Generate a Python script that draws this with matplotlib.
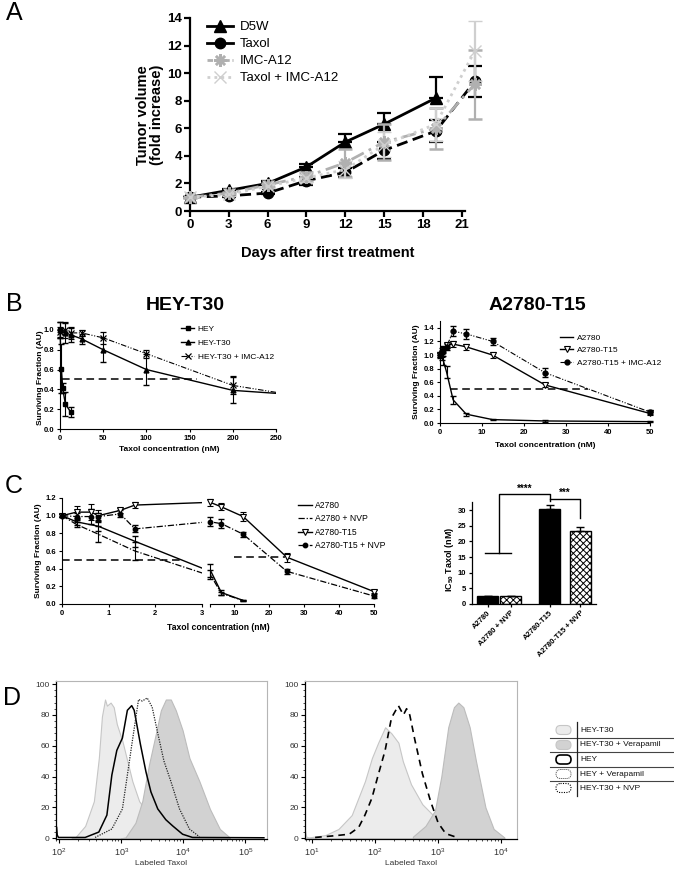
import matplotlib
matplotlib.use('Agg')
import matplotlib.pyplot as plt
from matplotlib.patches import FancyBboxPatch
from matplotlib.lines import Line2D
from matplotlib.ticker import FormatStrFormatter, MultipleLocator
import numpy as np

plt.rcParams['font.family'] = ['Liberation Sans', 'DejaVu Sans']
plt.rcParams['mathtext.fontset'] = 'custom'
plt.rcParams['mathtext.rm'] = 'Liberation Sans'
plt.rcParams['mathtext.bf'] = 'Liberation Sans:bold'
plt.rcParams['hatch.linewidth'] = 0.7

# ---------------- data ----------------
# A: tumour growth
days = [0, 3, 6, 9, 12, 15, 19, 22]
d5w = [1.0, 1.5, 2.0, 3.2, 5.0, 6.3, 8.2]
d5w_err = [0.05, 0.1, 0.15, 0.2, 0.6, 0.8, 1.5]
taxol = [1.0, 1.1, 1.3, 2.2, 2.8, 4.4, 5.8, 9.4]
taxol_err = [0.05, 0.1, 0.1, 0.3, 0.3, 0.6, 0.8, 1.1]
imc = [1.0, 1.3, 1.9, 2.5, 3.5, 5.0, 6.0, 9.2]
imc_err = [0.05, 0.1, 0.15, 0.3, 1.0, 1.3, 1.5, 2.5]
combo = [1.0, 1.2, 1.8, 2.4, 3.0, 4.8, 6.3, 11.6]
combo_err = [0.05, 0.1, 0.15, 0.3, 0.6, 0.9, 1.2, 2.2]

# B left: HEY / HEY-T30
hey_x = [0, 1.56, 3.125, 6.25, 12.5]
hey_y = [1.0, 0.61, 0.41, 0.25, 0.17]
hey_err = [0.08, 0.25, 0.05, 0.12, 0.05]
t30_x = [0, 6.25, 12.5, 25, 50, 100, 200]
t30_y = [1.0, 0.97, 0.95, 0.91, 0.80, 0.60, 0.39]
t30_err = [0.08, 0.1, 0.07, 0.05, 0.12, 0.16, 0.13]
t30imc_y = [0.98, 1.0, 0.97, 0.97, 0.92, 0.76, 0.44]
t30imc_err = [0.05, 0.08, 0.06, 0.03, 0.06, 0.04, 0.09]
fit_end_x = 250
t30_fit_end = 0.36
t30imc_fit_end = 0.37

# B right: A2780 / A2780-T15
b2_x = [0, 0.39, 0.78, 1.56, 3.125, 6.25, 12.5, 25, 50]
a2780_y = [1.0, 0.97, 0.92, 0.75, 0.34, 0.13, 0.05, 0.03, 0.02]
a2780_err = [0.03, 0.04, 0.06, 0.09, 0.06, 0.02, 0.01, 0.01, 0.01]
t15_y = [1.0, 1.02, 1.08, 1.14, 1.16, 1.12, 1.0, 0.56, 0.14]
t15_err = [0.03, 0.05, 0.04, 0.03, 0.04, 0.04, 0.05, 0.03, 0.02]
t15imc_y = [1.0, 1.05, 1.08, 1.12, 1.35, 1.31, 1.20, 0.74, 0.16]
t15imc_err = [0.05, 0.06, 0.05, 0.04, 0.07, 0.07, 0.05, 0.07, 0.03]

# C: NVP
ca_x = [0, 0.3125, 0.78, 1.5625, 3.125, 6.25, 12.5]
ca_y = [1.0, 0.93, 0.88, 0.71, 0.38, 0.13, 0.04]
ca_err = [0.02, 0.03, 0.05, 0.06, 0.07, 0.03, 0.01]
canvp_y = [1.0, 0.90, 0.79, 0.60, 0.33, 0.12, 0.04]
canvp_err = [0.02, 0.03, 0.09, 0.1, 0.05, 0.02, 0.01]
ct_x = [0, 0.3125, 0.625, 0.78, 1.25, 1.5625, 3.125, 6.25, 12.5, 25, 50]
ct_y = [1.0, 1.04, 1.04, 1.0, 1.06, 1.12, 1.15, 1.10, 0.99, 0.53, 0.14]
ct_err = [0.02, 0.07, 0.09, 0.06, 0.03, 0.03, 0.04, 0.04, 0.05, 0.05, 0.02]
ctnvp_y = [1.0, 0.99, 0.99, 0.99, 1.02, 0.85, 0.93, 0.91, 0.79, 0.37, 0.09]
ctnvp_err = [0.02, 0.04, 0.08, 0.04, 0.04, 0.04, 0.05, 0.05, 0.03, 0.03, 0.02]

bar_labels = ['A2780', 'A2780 + NVP', 'A2780-T15', 'A2780-T15 + NVP']
ic50 = [2.6, 2.4, 30.3, 23.4]
ic50_err = [0.1, 0.2, 1.4, 1.3]
bar_pos = [0, 0.78, 2.07, 3.1]

# D: flow histograms (log10 fluorescence, % of max)
L_t30_x = [2.20, 2.26, 2.42, 2.56, 2.64, 2.69, 2.74, 2.77, 2.83, 2.88, 2.93, 3.02, 3.10, 3.18, 3.29, 3.42, 3.59, 3.83, 4.10]
L_t30_y = [0, 0.5, 8, 24, 52, 79, 90, 86, 88, 85, 74, 63, 50, 37, 24, 17, 10, 4, 0.5]
L_t30ver_x = [3.00, 3.07, 3.23, 3.34, 3.45, 3.56, 3.64, 3.72, 3.80, 3.88, 3.99, 4.10, 4.26, 4.43, 4.59, 4.75]
L_t30ver_y = [0, 0.5, 10, 24, 48, 68, 83, 90, 90, 83, 70, 52, 37, 19, 6, 0.5]
L_hey_x = [1.96, 1.97, 1.99, 2.42, 2.64, 2.77, 2.85, 2.93, 3.02, 3.10, 3.17, 3.21, 3.26, 3.31, 3.40, 3.48, 3.59, 3.72, 3.83, 3.99, 4.15, 5.3]
L_hey_y = [7, 2, 0.5, 0.5, 4, 15, 41, 57, 65, 83, 86, 83, 72, 61, 43, 30, 19, 12, 8, 2.6, 0.5, 0.3]
L_heyver_x = [2.58, 2.85, 3.02, 3.10, 3.18, 3.28, 3.34, 3.42, 3.50, 3.59, 3.69, 3.80, 3.94, 4.10, 4.26]
L_heyver_y = [0.5, 6, 19, 41, 63, 90, 89, 91, 85, 68, 50, 37, 19, 6, 1]

R_t30_x = [0.89, 0.91, 0.95, 1.21, 1.42, 1.63, 1.84, 1.95, 2.05, 2.16, 2.26, 2.37, 2.44, 2.57, 2.75, 2.92, 3.12, 3.40, 3.67]
R_t30_y = [5, 1, 0.5, 2, 6, 15, 37, 52, 62, 72, 68, 62, 50, 35, 22, 15, 10, 4, 0.5]
R_t30ver_x = [2.60, 2.80, 2.95, 3.05, 3.16, 3.25, 3.32, 3.40, 3.50, 3.60, 3.75, 3.88, 4.05]
R_t30ver_y = [1, 8, 18, 40, 72, 85, 88, 85, 72, 50, 20, 6, 0.5]
R_nvp_x = [1.05, 1.33, 1.59, 1.74, 1.84, 1.95, 2.05, 2.16, 2.26, 2.37, 2.45, 2.50, 2.55, 2.63, 2.75, 2.88, 3.00, 3.12, 3.30]
R_nvp_y = [0.5, 1.5, 2.6, 7, 15, 26, 41, 57, 78, 86, 80, 84, 80, 64, 42, 24, 10, 3, 0.5]

legend_D = ['HEY-T30', 'HEY-T30 + Verapamil', 'HEY', 'HEY + Verapamil', 'HEY-T30 + NVP']

# ---------------- figure ----------------
W, H = 679, 873
fig = plt.figure(figsize=(W / 100, H / 100), dpi=100)


def axes_px(l, t, r, b):
    return fig.add_axes([l / W, 1 - b / H, (r - l) / W, (b - t) / H])


def text_px(x, y, s, **kw):
    fig.text(x / W, 1 - y / H, s, **kw)


def prism_axes(ax, lw=0.8, size=5.5, tl=2.5):
    for s in ['top', 'right']:
        ax.spines[s].set_visible(False)
    for s in ['left', 'bottom']:
        ax.spines[s].set_linewidth(lw)
    ax.tick_params(length=tl, width=lw, labelsize=size, pad=1.5)
    for lab in ax.get_xticklabels() + ax.get_yticklabels():
        lab.set_fontweight('bold')


grey1 = '#b0b0b0'
grey2 = '#cfcfcf'

# ---- panel A
axA = axes_px(190, 18, 465, 211)
axA.errorbar(days[:7], d5w, yerr=[[0] * 7, d5w_err], color='black', lw=2, marker='^', ms=8,
             capsize=4.7, capthick=1.6, elinewidth=1.6, clip_on=False, zorder=3)
axA.errorbar(days, taxol, yerr=taxol_err, color='black', lw=2, dashes=(4, 2), marker='o', ms=7.5,
             capsize=4.7, capthick=1.6, elinewidth=1.6, clip_on=False, zorder=3)
axA.errorbar(days, imc, yerr=imc_err, color=grey1, lw=2, dashes=(5, 2, 1, 2), marker=(8, 2, 0), ms=9,
             mew=1.8, capsize=4.7, capthick=1.6, elinewidth=1.6, clip_on=False, zorder=4)
axA.errorbar(days, combo, yerr=combo_err, color=grey2, lw=2, dashes=(1, 1.5), marker='x', ms=8,
             mew=1.0, capsize=4.7, capthick=1.6, elinewidth=1.6, clip_on=False, zorder=4)
axA.set_xlim(0, 21.25)
axA.set_ylim(0, 14)
axA.set_xticks(range(0, 22, 3))
axA.set_yticks(range(0, 15, 2))
prism_axes(axA, lw=1.6, size=9.5, tl=4)
handlesA = [Line2D([], [], color='black', lw=2, marker='^', ms=8),
            Line2D([], [], color='black', lw=2, marker='o', ms=7.5),
            Line2D([], [], color=grey1, lw=2, dashes=(2, 1), marker=(8, 2, 0), ms=9, mew=1.8),
            Line2D([], [], color=grey2, lw=2, dashes=(1, 1.5), marker='x', ms=8, mew=1.0)]
fig.legend(handlesA, ['D5W', 'Taxol', 'IMC-A12', 'Taxol + IMC-A12'], loc='upper left',
           bbox_to_anchor=(207 / W, 1 - 21 / H), frameon=False, fontsize=9.5, handlelength=2.0,
           handletextpad=0.5, labelspacing=0.36, borderpad=0, borderaxespad=0)
text_px(150, 115, 'Tumor volume\n(fold increase)', rotation=90, ha='center', va='center',
        fontsize=10.5, fontweight='bold', linespacing=1.0)
text_px(328, 253, 'Days after first treatment', ha='center', va='center', fontsize=10.5, fontweight='bold')

# ---- panel B left
dd = (0, (5, 1.5, 1, 1.5, 1, 1.5))
axB1 = axes_px(60, 322, 276, 429)
axB1.errorbar(hey_x, hey_y, yerr=hey_err, color='black', lw=1, marker='s', ms=3.5, capsize=2.5,
              elinewidth=0.8, clip_on=False)
axB1.errorbar(t30_x, t30_y, yerr=t30_err, color='black', lw=1, marker='^', ms=3.5, capsize=2.5,
              elinewidth=0.8, clip_on=False)
axB1.plot([t30_x[-1], fit_end_x], [t30_y[-1], t30_fit_end], color='black', lw=1)
axB1.errorbar(t30_x, t30imc_y, yerr=t30imc_err, color='black', lw=0.8, ls=dd, marker='x', ms=4,
              mew=0.9, capsize=2.5, elinewidth=0.8, clip_on=False)
axB1.plot([t30_x[-1], fit_end_x], [t30imc_y[-1], t30imc_fit_end], color='black', lw=0.8, ls=dd)
axB1.plot([2, 158], [0.5, 0.5], color='black', lw=1.1, dashes=(5, 3))
axB1.set_xlim(0, 250)
axB1.set_ylim(0, 1.08)
axB1.set_xticks(range(0, 251, 50))
axB1.set_yticks(np.arange(0, 1.01, 0.2))
axB1.yaxis.set_major_formatter(FormatStrFormatter('%.1f'))
prism_axes(axB1)
hB1 = [Line2D([], [], color='black', lw=1, marker='s', ms=3.5),
       Line2D([], [], color='black', lw=1, marker='^', ms=3.5),
       Line2D([], [], color='black', lw=0.8, ls=dd, marker='x', ms=4, mew=0.9)]
fig.legend(hB1, ['HEY', 'HEY-T30', 'HEY-T30 + IMC-A12'], loc='upper left',
           bbox_to_anchor=(181 / W, 1 - 325 / H), frameon=False, fontsize=6, handlelength=1.6,
           handletextpad=0.4, labelspacing=0.75, borderpad=0, borderaxespad=0)
text_px(185, 305, 'HEY-T30', ha='center', va='center', fontsize=14, fontweight='bold')
text_px(40, 378, 'Surviving Fraction (AU)', rotation=90, ha='center', va='center', fontsize=6, fontweight='bold')
text_px(169, 450, 'Taxol concentration (nM)', ha='center', va='center', fontsize=6, fontweight='bold')

# ---- panel B right
axB2 = axes_px(440, 321, 650, 423)
axB2.errorbar(b2_x, a2780_y, yerr=a2780_err, color='black', lw=1, capsize=2.5, elinewidth=0.8, clip_on=False)
axB2.errorbar(b2_x, t15_y, yerr=t15_err, color='black', lw=1, marker='v', ms=4, mfc='white',
              mew=0.8, capsize=2.5, elinewidth=0.8, clip_on=False)
axB2.errorbar(b2_x, t15imc_y, yerr=t15imc_err, color='black', lw=0.8, ls=dd, marker='o', ms=3.5,
              capsize=2.5, elinewidth=0.8, clip_on=False)
axB2.plot([2.4, 35.3], [0.5, 0.5], color='black', lw=1.1, dashes=(5, 3))
axB2.set_xlim(0, 50)
axB2.set_ylim(0, 1.5)
axB2.set_xticks(range(0, 51, 10))
axB2.set_yticks(np.arange(0, 1.41, 0.2))
axB2.yaxis.set_major_formatter(FormatStrFormatter('%.1f'))
prism_axes(axB2)
hB2 = [Line2D([], [], color='black', lw=1),
       Line2D([], [], color='black', lw=1, marker='v', ms=4, mfc='white', mew=0.8),
       Line2D([], [], color='black', lw=0.8, ls=dd, marker='o', ms=3.5)]
fig.legend(hB2, ['A2780', 'A2780-T15', 'A2780-T15 + IMC-A12'], loc='upper left',
           bbox_to_anchor=(560 / W, 1 - 334 / H), frameon=False, fontsize=6, handlelength=1.6,
           handletextpad=0.4, labelspacing=0.55, borderpad=0, borderaxespad=0)
text_px(537, 305, 'A2780-T15', ha='center', va='center', fontsize=14, fontweight='bold')
text_px(417, 372, 'Surviving Fraction (AU)', rotation=90, ha='center', va='center', fontsize=6, fontweight='bold')
text_px(545, 446, 'Taxol concentration (nM)', ha='center', va='center', fontsize=6, fontweight='bold')

# ---- panel C broken axis
axC1 = axes_px(62, 498, 202, 604)
axC2 = axes_px(210, 498, 374, 604)
for ax, lo, hi in [(axC1, 0, 3), (axC2, 3, 50)]:
    ax.plot(ca_x, ca_y, color='black', lw=1)
    ax.plot(ca_x, canvp_y, color='black', lw=0.9, ls=(0, (5, 1.5, 1, 1.5)))
    ax.plot(ct_x, ct_y, color='black', lw=1)
    ax.plot(ct_x, ctnvp_y, color='black', lw=0.9, ls=(0, (5, 1.5, 1, 1.5)))
    for xs, ys, es, kw in [(ca_x, ca_y, ca_err, {}), (ca_x, canvp_y, canvp_err, {}),
                           (ct_x, ct_y, ct_err, dict(marker='v', ms=4, mfc='white', mew=0.8)),
                           (ct_x, ctnvp_y, ctnvp_err, dict(marker='o', ms=3.2))]:
        sel = [i for i, x in enumerate(xs) if lo <= x <= hi]
        ax.errorbar([xs[i] for i in sel], [ys[i] for i in sel], yerr=[es[i] for i in sel],
                    color='black', ls='none', capsize=2.5, elinewidth=0.8, clip_on=False, **kw)
    ax.set_xlim(lo, hi)
    ax.set_ylim(0, 1.2)
axC1.plot([0, 2.6], [0.5, 0.5], color='black', lw=1.1, dashes=(5, 3))
axC2.plot([10, 24.5], [0.53, 0.53], color='black', lw=1.1, dashes=(5, 3))
axC1.set_xticks([0, 1, 2, 3])
axC1.set_yticks(np.arange(0, 1.21, 0.2))
axC1.yaxis.set_major_formatter(FormatStrFormatter('%.1f'))
prism_axes(axC1)
axC2.set_xticks([3, 10, 20, 30, 40, 50])
axC2.set_xticklabels(['', '10', '20', '30', '40', '50'])
axC2.set_yticks([])
prism_axes(axC2)
axC2.spines['left'].set_visible(False)
hC = [Line2D([], [], color='black', lw=1),
      Line2D([], [], color='black', lw=0.9, ls=(0, (5, 1.5, 1, 1.5))),
      Line2D([], [], color='black', lw=1, marker='v', ms=4, mfc='white', mew=0.8),
      Line2D([], [], color='black', lw=0.9, ls=(0, (5, 1.5, 1, 1.5)), marker='o', ms=3.2)]
fig.legend(hC, ['A2780', 'A2780 + NVP', 'A2780-T15', 'A2780-T15 + NVP'], loc='upper left',
           bbox_to_anchor=(298 / W, 1 - 501 / H), frameon=False, fontsize=6.2, handlelength=1.6,
           handletextpad=0.4, labelspacing=0.5, borderpad=0, borderaxespad=0)
text_px(39, 551, 'Surviving Fraction (AU)', rotation=90, ha='center', va='center', fontsize=6, fontweight='bold')
text_px(218, 627, 'Taxol concentration (nM)', ha='center', va='center', fontsize=6.2, fontweight='bold')

# ---- panel C bars
axBar = axes_px(472, 502, 596, 604)
for i in range(4):
    hatched = i % 2 == 1
    axBar.bar(bar_pos[i], ic50[i], width=0.7, color='white' if hatched else 'black',
              edgecolor='black', lw=1.0, hatch='xxxxx' if hatched else None)
    axBar.errorbar(bar_pos[i], ic50[i], yerr=[[0], [ic50_err[i]]], color='black', capsize=3,
                   elinewidth=1, capthick=1)
axBar.set_xlim(-0.52, 3.62)
axBar.set_ylim(0, 32.6)
axBar.set_yticks(range(0, 31, 5))
axBar.set_xticks(bar_pos)
axBar.set_xticklabels(bar_labels, rotation=45, ha='right', rotation_mode='anchor')
prism_axes(axBar, lw=0.9, size=5.5)
grp = (bar_pos[0] + bar_pos[1]) / 2
axBar.plot([bar_pos[0] - 0.1, bar_pos[1]], [16.3, 16.3], color='black', lw=1, clip_on=False)
axBar.plot([grp, grp, bar_pos[2], bar_pos[2]], [16.3, 35, 35, 33], color='black', lw=1, clip_on=False)
axBar.plot([bar_pos[2], bar_pos[3], bar_pos[3]], [33.5, 33.5, 27.5], color='black', lw=1, clip_on=False)
axBar.text((grp + bar_pos[2]) / 2, 35.3, '****', ha='center', va='bottom', fontsize=7, fontweight='bold')
axBar.text((bar_pos[2] + bar_pos[3]) / 2, 33.8, '***', ha='center', va='bottom', fontsize=7, fontweight='bold')
text_px(450, 559, r'IC$_{\mathbf{50}}$ Taxol (nM)', rotation=90, ha='center', va='center',
        fontsize=6.5, fontweight='bold')

# ---- panel D histograms
fill1 = dict(facecolor='#ececec', edgecolor='#c6c6c6', lw=0.8)
fill2 = dict(facecolor='#d2d2d2', edgecolor='#bcbcbc', lw=0.8)


def hist_axes(ax, lo, hi):
    ax.set_xscale('log')
    ax.set_xlim(10 ** lo, 10 ** hi)
    ax.set_ylim(-0.5, 102)
    ax.set_yticks(range(0, 101, 20))
    ax.yaxis.set_minor_locator(MultipleLocator(4))
    for s in ['top', 'right']:
        ax.spines[s].set_color('#b5b5b5')
        ax.spines[s].set_linewidth(0.8)
    for s in ['left', 'bottom']:
        ax.spines[s].set_linewidth(0.9)
    ax.tick_params(axis='y', which='major', length=3, width=0.8, labelsize=6, labelcolor='#333333', pad=1.5)
    ax.tick_params(axis='x', which='major', length=3, width=0.8, labelsize=6.5, labelcolor='#333333', pad=2)
    ax.tick_params(which='minor', length=1.5, width=0.5)
    ax.set_xlabel('Labeled Taxol', fontsize=6, color='#333333', labelpad=1.5)


axD1 = axes_px(56, 681, 267, 839)
axD1.fill_between(10 ** np.array(L_t30_x), L_t30_y, **fill1)
axD1.fill_between(10 ** np.array(L_t30ver_x), L_t30ver_y, **fill2)
axD1.plot(10 ** np.array(L_hey_x), L_hey_y, color='black', lw=1.1)
axD1.plot(10 ** np.array(L_heyver_x), L_heyver_y, color='#222222', lw=0.9, ls=(0, (1, 1)))
hist_axes(axD1, 1.95, 5.35)

axD2 = axes_px(305, 681, 517, 839)
axD2.fill_between(10 ** np.array(R_t30_x), R_t30_y, **fill1)
axD2.fill_between(10 ** np.array(R_t30ver_x), R_t30ver_y, **fill2)
axD2.plot(10 ** np.array(R_nvp_x), R_nvp_y, color='black', lw=1.2, dashes=(4, 3))
hist_axes(axD2, 0.89, 4.25)

# legend for D (drawn in pixel coordinates)
axL = axes_px(548, 720, 674, 800)
axL.set_xlim(548, 674)
axL.set_ylim(800, 720)
axL.axis('off')
rows = [730, 745, 759.5, 774, 788]
sym = [dict(facecolor='#ececec', edgecolor='#c6c6c6', lw=0.8, ls='-'),
       dict(facecolor='#d2d2d2', edgecolor='#c6c6c6', lw=0.8, ls='-'),
       dict(facecolor='white', edgecolor='black', lw=1.2, ls='-'),
       dict(facecolor='white', edgecolor='#444444', lw=0.7, ls=(0, (1, 1))),
       dict(facecolor='white', edgecolor='black', lw=0.8, ls=(0, (1, 1.2)))]
for y, lab, st in zip(rows, legend_D, sym):
    axL.add_patch(FancyBboxPatch((556, y - 4.5), 15, 9, boxstyle='round,pad=0,rounding_size=4.5', **st))
    axL.text(580, y, lab, fontsize=6, va='center', ha='left', color='#111111')
for y in [737.5, 752, 767, 781]:
    axL.plot([550, 674], [y, y], color='#444444', lw=0.8)
axL.plot([577, 577], [722, 796], color='#222222', lw=0.9)

# panel letters
for lab, x, y in [('A', 14, 13), ('B', 14, 304), ('C', 14, 486), ('D', 12, 698)]:
    text_px(x, y, lab, fontsize=18, ha='center', va='center')

fig.savefig('out.png', dpi=100)
